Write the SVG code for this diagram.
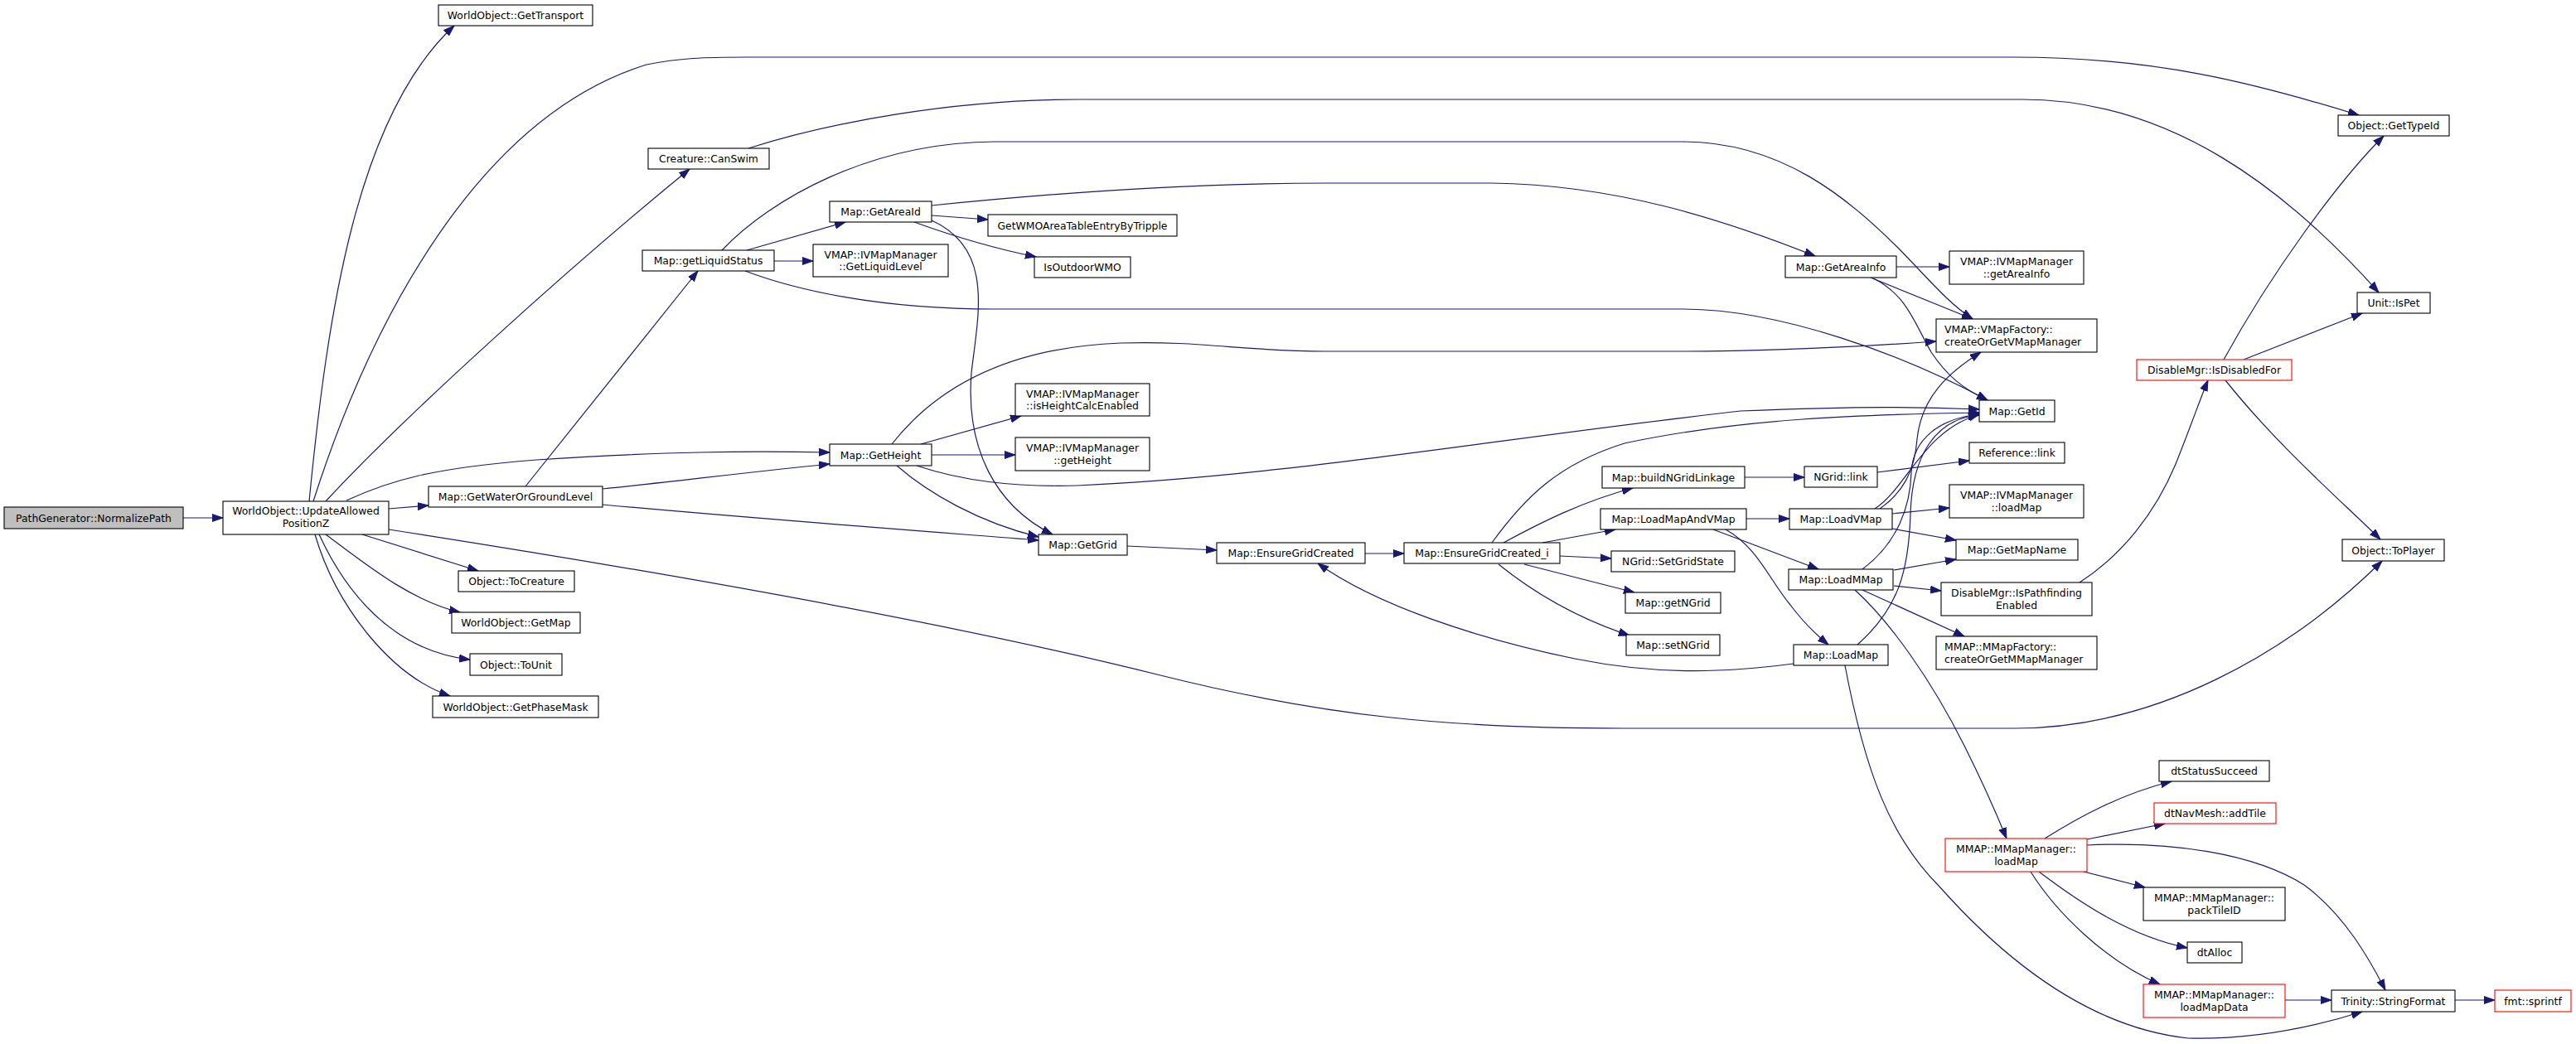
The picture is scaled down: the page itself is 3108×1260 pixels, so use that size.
<svg xmlns="http://www.w3.org/2000/svg" width="3108" height="1260" viewBox="0 0 3108 1260">
<style>
.node rect{fill:#fff;stroke:#000;stroke-width:1.1}
.node rect.root{fill:#bfbfbf}
.node rect.trunc{stroke:#ff0000}
text{font-family:"DejaVu Sans","Liberation Sans",sans-serif;font-size:12.4px;fill:#000;text-anchor:middle}
text.l{text-anchor:start}
#edges path{fill:none;stroke:#191970;stroke-width:1.2;marker-end:url(#ah)}
</style>
<defs>
<marker id="ah" markerWidth="14" markerHeight="11" refX="13" refY="5" orient="auto" markerUnits="userSpaceOnUse">
<path d="M0,0.5 L13,5 L0,9.5 z" fill="#191970" stroke="#191970" stroke-width="1"/>
</marker>
</defs>
<rect width="3108" height="1260" fill="#fff"/>
<g id="edges">
<path d="M221,625 L269,625"/>
<path d="M373,605 C395,380 430,140 548,31"/>
<path d="M378,605 C450,380 580,140 780,78 C820,70 850,69 900,69 L2430,69 C2600,69 2720,100 2846,139"/>
<path d="M393,605 C490,500 690,320 832,204"/>
<path d="M418,604 C470,580 520,565 647,555 C800,545 900,544 1001,546"/>
<path d="M469,614 L517,610"/>
<path d="M469,639 C700,675 1100,740 1400,815 C1600,865 1750,879 1960,879 L2430,879 C2600,879 2760,790 2874,677"/>
<path d="M437,645 L577,689"/>
<path d="M393,645 C440,680 495,725 555,739"/>
<path d="M385,645 C415,710 470,785 567,796"/>
<path d="M380,645 C405,730 470,815 543,840"/>
<path d="M634,587 L842,327"/>
<path d="M727,590 C800,583 900,570 1001,560"/>
<path d="M727,609 C900,625 1100,640 1253,652"/>
<path d="M903,179 C1000,148 1150,120 1300,120 L2440,120 C2620,120 2760,230 2870,353"/>
<path d="M901,302 L1020,268"/>
<path d="M934,315 L981,315"/>
<path d="M871,302 C930,240 1050,172 1200,171 L2030,171 C2150,171 2230,240 2290,299 C2330,340 2350,365 2380,385"/>
<path d="M899,327 C960,350 1060,373 1200,373 L2030,373 C2150,373 2300,430 2398,483"/>
<path d="M1124,260 L1192,265"/>
<path d="M1103,268 C1150,285 1200,300 1250,310"/>
<path d="M1124,248 C1300,230 1450,221 1600,221 L1800,221 C1950,223 2080,265 2190,309"/>
<path d="M1124,266 C1200,300 1180,380 1172,450 C1165,540 1200,610 1270,645"/>
<path d="M1111,536 L1232,502"/>
<path d="M1124,549 L1225,549"/>
<path d="M1076,536 C1120,480 1200,420 1352,414 C1450,411 1500,424 1600,424 L2030,424 C2150,424 2250,418 2336,412"/>
<path d="M1106,562 C1160,580 1220,588 1300,586 C1550,575 1800,530 2100,496 C2250,490 2320,491 2388,494"/>
<path d="M1082,562 C1120,595 1180,630 1253,648"/>
<path d="M1360,659 L1468,664"/>
<path d="M1647,668 L1694,668"/>
<path d="M1814,655 C1860,630 1910,605 1970,589"/>
<path d="M1861,655 L1949,639"/>
<path d="M1800,655 C1840,600 1880,560 1960,535 C2100,505 2250,500 2388,498"/>
<path d="M1882,671 L1944,674"/>
<path d="M1839,681 L1972,715"/>
<path d="M1808,681 C1850,715 1900,745 1966,767"/>
<path d="M2105,576 L2177,576"/>
<path d="M2265,570 L2376,556"/>
<path d="M2107,626 L2159,626"/>
<path d="M2067,639 L2194,687"/>
<path d="M2082,639 C2120,660 2135,700 2160,730 C2175,750 2190,765 2206,778"/>
<path d="M2164,801 C2080,812 2000,815 1900,795 C1780,770 1660,730 1590,680"/>
<path d="M2226,803 C2250,930 2280,1010 2340,1070 C2420,1160 2520,1240 2640,1253 C2720,1255 2790,1240 2850,1221"/>
<path d="M2241,778 C2290,735 2303,690 2305,620 C2307,550 2335,505 2388,501"/>
<path d="M2262,614 C2300,590 2320,520 2388,500"/>
<path d="M2268,614 C2295,595 2310,570 2313,530 C2318,480 2350,450 2390,425"/>
<path d="M2247,687 C2290,655 2305,610 2306,570 C2308,530 2340,505 2388,500"/>
<path d="M2283,620 L2352,613"/>
<path d="M2283,638 L2360,652"/>
<path d="M2285,688 L2360,675"/>
<path d="M2285,707 L2342,713"/>
<path d="M2247,712 L2370,768"/>
<path d="M2238,712 C2280,750 2330,820 2370,900 C2395,950 2410,985 2421,1012"/>
<path d="M2509,703 C2560,670 2600,620 2625,560 C2645,510 2655,480 2664,459"/>
<path d="M2683,434 C2740,330 2820,220 2876,164"/>
<path d="M2707,434 L2850,378"/>
<path d="M2685,459 C2750,540 2820,600 2872,651"/>
<path d="M2288,322 L2352,322"/>
<path d="M2257,335 L2380,385"/>
<path d="M2260,336 C2300,355 2310,390 2330,425 C2350,455 2370,470 2398,483"/>
<path d="M2467,1012 C2510,985 2560,958 2620,943"/>
<path d="M2518,1013 L2612,994"/>
<path d="M2518,1020 C2620,1015 2720,1030 2780,1068 C2830,1105 2860,1160 2878,1195"/>
<path d="M2514,1052 L2588,1071"/>
<path d="M2460,1052 C2510,1090 2570,1130 2639,1144"/>
<path d="M2450,1052 C2480,1100 2540,1160 2606,1188"/>
<path d="M2757,1207 L2813,1207"/>
<path d="M2962,1207 L3010,1207"/>
</g>
<g id="n0" class="node"><rect class="root" x="5" y="612" width="216" height="26"/><text x="113" y="629.5">PathGenerator::NormalizePath</text></g>
<g id="n1" class="node"><rect x="269" y="605" width="200" height="40"/><text x="369" y="621">WorldObject::UpdateAllowed</text><text x="369" y="636">PositionZ</text></g>
<g id="n2" class="node"><rect x="529" y="6" width="186" height="25"/><text x="622" y="23">WorldObject::GetTransport</text></g>
<g id="n3" class="node"><rect x="782" y="179" width="146" height="25"/><text x="855" y="196">Creature::CanSwim</text></g>
<g id="n4" class="node"><rect x="775" y="302" width="159" height="25"/><text x="854.5" y="319">Map::getLiquidStatus</text></g>
<g id="n5" class="node"><rect x="517" y="587" width="210" height="25"/><text x="622" y="604">Map::GetWaterOrGroundLevel</text></g>
<g id="n6" class="node"><rect x="553" y="689" width="140" height="25"/><text x="623" y="706">Object::ToCreature</text></g>
<g id="n7" class="node"><rect x="545" y="739" width="155" height="25"/><text x="622.5" y="756">WorldObject::GetMap</text></g>
<g id="n8" class="node"><rect x="567" y="789" width="111" height="26"/><text x="622.5" y="806.5">Object::ToUnit</text></g>
<g id="n9" class="node"><rect x="522" y="840" width="200" height="26"/><text x="622" y="857.5">WorldObject::GetPhaseMask</text></g>
<g id="n10" class="node"><rect x="1001" y="243" width="123" height="25"/><text x="1062.5" y="260">Map::GetAreaId</text></g>
<g id="n11" class="node"><rect x="981" y="295" width="163" height="39"/><text x="1062.5" y="311.5">VMAP::IVMapManager</text><text x="1062.5" y="325.5">::GetLiquidLevel</text></g>
<g id="n12" class="node"><rect x="1192" y="259" width="228" height="26"/><text x="1306" y="276.5">GetWMOAreaTableEntryByTripple</text></g>
<g id="n13" class="node"><rect x="1248" y="310" width="116" height="25"/><text x="1306" y="327">IsOutdoorWMO</text></g>
<g id="n14" class="node"><rect x="1001" y="536" width="123" height="26"/><text x="1062.5" y="553.5">Map::GetHeight</text></g>
<g id="n15" class="node"><rect x="1225" y="463" width="162" height="39"/><text x="1306" y="479.5">VMAP::IVMapManager</text><text x="1306" y="494">::isHeightCalcEnabled</text></g>
<g id="n16" class="node"><rect x="1225" y="528" width="162" height="40"/><text x="1306" y="545">VMAP::IVMapManager</text><text x="1306" y="560">::getHeight</text></g>
<g id="n17" class="node"><rect x="1253" y="645" width="107" height="25"/><text x="1306.5" y="662">Map::GetGrid</text></g>
<g id="n18" class="node"><rect x="1468" y="655" width="179" height="25"/><text x="1557.5" y="672">Map::EnsureGridCreated</text></g>
<g id="n19" class="node"><rect x="1694" y="655" width="188" height="25"/><text x="1788" y="672">Map::EnsureGridCreated_i</text></g>
<g id="n20" class="node"><rect x="1933" y="563" width="172" height="26"/><text x="2019" y="580.5">Map::buildNGridLinkage</text></g>
<g id="n21" class="node"><rect x="1931" y="614" width="176" height="25"/><text x="2019" y="631">Map::LoadMapAndVMap</text></g>
<g id="n22" class="node"><rect x="1944" y="665" width="149" height="25"/><text x="2018.5" y="682">NGrid::SetGridState</text></g>
<g id="n23" class="node"><rect x="1961" y="715" width="115" height="25"/><text x="2018.5" y="732">Map::getNGrid</text></g>
<g id="n24" class="node"><rect x="1962" y="766" width="113" height="25"/><text x="2018.5" y="783">Map::setNGrid</text></g>
<g id="n25" class="node"><rect x="2177" y="563" width="88" height="25"/><text x="2221" y="580">NGrid::link</text></g>
<g id="n26" class="node"><rect x="2159" y="614" width="124" height="25"/><text x="2221" y="631">Map::LoadVMap</text></g>
<g id="n27" class="node"><rect x="2158" y="687" width="126" height="25"/><text x="2221" y="704">Map::LoadMMap</text></g>
<g id="n28" class="node"><rect x="2164" y="778" width="114" height="25"/><text x="2221" y="795">Map::LoadMap</text></g>
<g id="n29" class="node"><rect x="2154" y="309" width="134" height="26"/><text x="2221" y="326.5">Map::GetAreaInfo</text></g>
<g id="n30" class="node"><rect x="2352" y="303" width="162" height="40"/><text x="2433" y="320">VMAP::IVMapManager</text><text x="2433" y="335">::getAreaInfo</text></g>
<g id="n31" class="node"><rect x="2336" y="385" width="194" height="40"/><text class="l" x="2346" y="402">VMAP::VMapFactory::</text><text class="l" x="2346" y="417">createOrGetVMapManager</text></g>
<g id="n32" class="node"><rect x="2388" y="483" width="91" height="26"/><text x="2433.5" y="500.5">Map::GetId</text></g>
<g id="n33" class="node"><rect x="2376" y="534" width="115" height="25"/><text x="2433.5" y="551">Reference::link</text></g>
<g id="n34" class="node"><rect x="2352" y="585" width="162" height="40"/><text x="2433" y="602">VMAP::IVMapManager</text><text x="2433" y="617">::loadMap</text></g>
<g id="n35" class="node"><rect x="2360" y="651" width="147" height="25"/><text x="2433.5" y="668">Map::GetMapName</text></g>
<g id="n36" class="node"><rect x="2342" y="703" width="182" height="40"/><text x="2433" y="720">DisableMgr::IsPathfinding</text><text x="2433" y="735">Enabled</text></g>
<g id="n37" class="node"><rect x="2336" y="768" width="194" height="40"/><text class="l" x="2346" y="785">MMAP::MMapFactory::</text><text class="l" x="2346" y="800">createOrGetMMapManager</text></g>
<g id="n38" class="node"><rect class="trunc" x="2347" y="1012" width="171" height="40"/><text x="2432.5" y="1029">MMAP::MMapManager::</text><text x="2432.5" y="1044">loadMap</text></g>
<g id="n39" class="node"><rect class="trunc" x="2578" y="434" width="187" height="25"/><text x="2671.5" y="451">DisableMgr::IsDisabledFor</text></g>
<g id="n40" class="node"><rect x="2821" y="139" width="134" height="25"/><text x="2888" y="156">Object::GetTypeId</text></g>
<g id="n41" class="node"><rect x="2844" y="353" width="88" height="25"/><text x="2888" y="370">Unit::IsPet</text></g>
<g id="n42" class="node"><rect x="2826" y="651" width="123" height="26"/><text x="2887.5" y="668.5">Object::ToPlayer</text></g>
<g id="n43" class="node"><rect x="2605" y="918" width="133" height="25"/><text x="2671.5" y="935">dtStatusSucceed</text></g>
<g id="n44" class="node"><rect class="trunc" x="2599" y="969" width="147" height="25"/><text x="2672.5" y="986">dtNavMesh::addTile</text></g>
<g id="n45" class="node"><rect x="2586" y="1071" width="171" height="40"/><text x="2671.5" y="1088">MMAP::MMapManager::</text><text x="2671.5" y="1103">packTileID</text></g>
<g id="n46" class="node"><rect x="2639" y="1137" width="66" height="25"/><text x="2672" y="1154">dtAlloc</text></g>
<g id="n47" class="node"><rect class="trunc" x="2586" y="1188" width="171" height="40"/><text x="2671.5" y="1205">MMAP::MMapManager::</text><text x="2671.5" y="1220">loadMapData</text></g>
<g id="n48" class="node"><rect x="2813" y="1195" width="149" height="26"/><text x="2887.5" y="1212.5">Trinity::StringFormat</text></g>
<g id="n49" class="node"><rect class="trunc" x="3010" y="1195" width="92" height="26"/><text x="3056" y="1212.5">fmt::sprintf</text></g>
</svg>
